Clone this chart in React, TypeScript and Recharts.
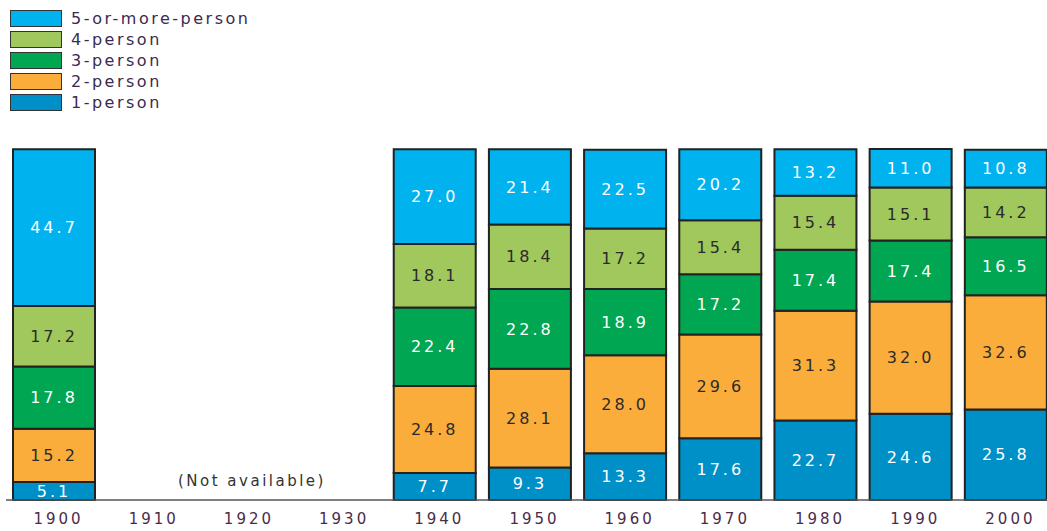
import React from 'react';
import { BarChart, Bar, XAxis, YAxis, LabelList, ReferenceLine } from 'recharts';

// household size shares, percent of all households
const years = ['1900', '1910', '1920', '1930', '1940', '1950', '1960', '1970', '1980', '1990', '2000'];
const onePerson = [5.1, null, null, null, 7.7, 9.3, 13.3, 17.6, 22.7, 24.6, 25.8];
const twoPerson = [15.2, null, null, null, 24.8, 28.1, 28.0, 29.6, 31.3, 32.0, 32.6];
const threePerson = [17.8, null, null, null, 22.4, 22.8, 18.9, 17.2, 17.4, 17.4, 16.5];
const fourPerson = [17.2, null, null, null, 18.1, 18.4, 17.2, 15.4, 15.4, 15.1, 14.2];
const fivePlus = [44.7, null, null, null, 27.0, 21.4, 22.5, 20.2, 13.2, 11.0, 10.8];

const seriesKeys = ['one', 'two', 'three', 'four', 'five'];
const seriesNames = ['1-person', '2-person', '3-person', '4-person', '5-or-more-person'];
const seriesColors = ['#0090c8', '#fbad3b', '#00a651', '#a0c85c', '#00b2ee'];
const labelColors = ['#ffffff', '#2b2b2b', '#ffffff', '#2b2b2b', '#ffffff'];

const data = years.map((year, i) => ({
    year,
    one: onePerson[i],
    two: twoPerson[i],
    three: threePerson[i],
    four: fourPerson[i],
    five: fivePlus[i],
}));

const FONT = '"DejaVu Sans", Verdana, sans-serif';
const TEXT_COLOR = '#4a2c4a';

const fmt = (v: any) => (v == null ? '' : Number(v).toFixed(1));

const LegendBox = () => {
    const order = [4, 3, 2, 1, 0];
    return (
        <div style={{ position: 'absolute', left: 10, top: 8, fontFamily: FONT, zIndex: 2 }}>
            {order.map((i) => (
                <div key={seriesKeys[i]} style={{ display: 'flex', alignItems: 'center', height: 21 }}>
                    <div style={{
                        width: 50,
                        height: 15,
                        background: seriesColors[i],
                        border: '1.5px solid #333',
                    }} />
                    <span style={{ marginLeft: 9, fontSize: 16, letterSpacing: 2.5, color: '#3b2b4f' }}>
                        {seriesNames[i]}
                    </span>
                </div>
            ))}
        </div>
    );
};

export default function App() {
    return (
        <div style={{ position: 'absolute', left: 0, top: 0, width: 1047, height: 531, overflow: 'hidden', background: '#fff' }}>
            <LegendBox />
            <BarChart
                width={1053}
                height={531}
                data={data}
                margin={{ top: 149, right: 0, left: 6, bottom: 0 }}
                barSize={82}
            >
                <XAxis
                    dataKey="year"
                    height={31}
                    tickLine={false}
                    axisLine={{ stroke: '#555', strokeWidth: 1.5 }}
                    tickMargin={7}
                    tick={{ fill: TEXT_COLOR, fontSize: 15, fontFamily: FONT, letterSpacing: 3, dx: 5 }}
                    interval={0}
                />
                <YAxis hide domain={[0, 100]} />
                <ReferenceLine
                    x="1920"
                    stroke="none"
                    label={{
                        value: '(Not available)',
                        position: 'insideBottom',
                        offset: 14,
                        dx: 8,
                        fill: '#333',
                        fontSize: 15,
                        fontFamily: FONT,
                        letterSpacing: 2.5,
                    }}
                />
                {seriesKeys.map((key, i) => (
                    <Bar
                        key={key}
                        dataKey={key}
                        name={seriesNames[i]}
                        stackId="a"
                        fill={seriesColors[i]}
                        stroke="#222"
                        strokeWidth={2}
                        isAnimationActive={false}
                    >
                        <LabelList
                            dataKey={key}
                            position="center"
                            formatter={fmt}
                            fill={labelColors[i]}
                            style={{ fontSize: 16, fontFamily: FONT, letterSpacing: 3 }}
                        />
                    </Bar>
                ))}
            </BarChart>
        </div>
    );
}
